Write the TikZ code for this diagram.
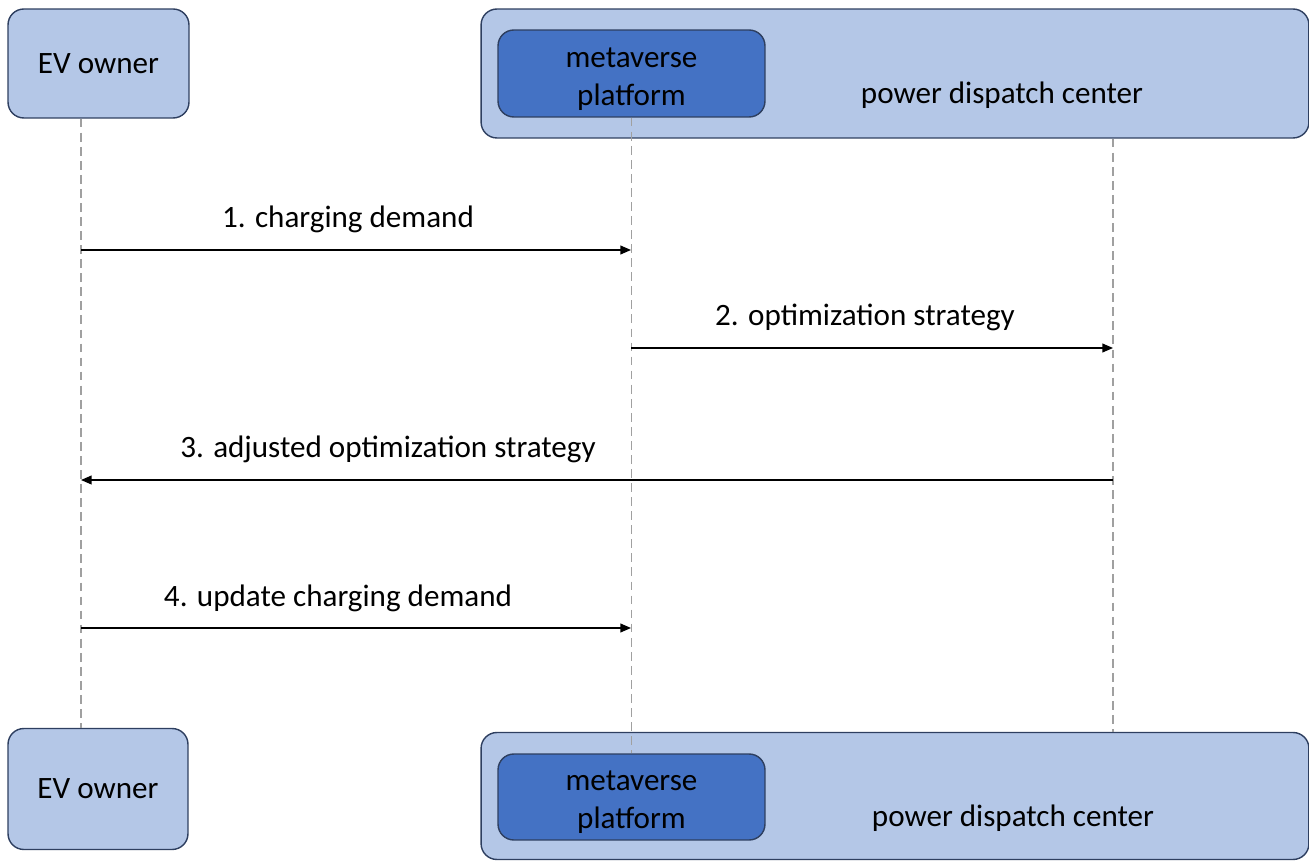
\documentclass[tikz,border=0pt]{standalone}
\usepackage{fontspec}
\setmainfont{Carlito}
\usepackage{tikz}
\usetikzlibrary{arrows.meta}
\definecolor{boxlight}{HTML}{B4C7E7}
\definecolor{boxdark}{HTML}{4472C4}
\definecolor{boxline}{HTML}{2E3F60}
\definecolor{lifegray}{HTML}{A0A0A0}

\begin{document}
\begin{tikzpicture}[x=0.02cm, y=-0.02cm,
    every node/.style={font=\fontsize{17.7}{21.5}\selectfont, align=center},
    actor/.style={draw=boxline, line width=0.8pt, fill=boxlight, rounded corners=9pt, inner sep=0pt},
    inner/.style={draw=boxline, line width=0.8pt, fill=boxdark, rounded corners=9pt, inner sep=0pt,
      minimum width=5.34cm},
    lifeline/.style={lifegray, line width=0.6pt, dash pattern=on 5pt off 3pt},
    msg/.style={black, line width=0.7pt, -{Triangle[length=6pt,width=5pt]}},
    lbl/.style={anchor=base, inner sep=0pt}]
			    		\useasboundingbox (0,0) rectangle (1309,861);
			    		\node[actor, minimum width=3.62cm, minimum height=2.18cm] (ev1) at (98.5,63.5) {EV owner};
			    		\node[actor, minimum width=16.56cm, minimum height=2.58cm] (pd1) at (895,73.5) {};
			    		\node[inner, minimum height=1.74cm] (mp1) at (631.5,73.5) {};
			    		\node (mt1) at (631.5,79) {metaverse\\platform};
			    		\node (pt1) at (1002,95) {power dispatch center};
			    		\node[actor, minimum width=3.6cm, minimum height=2.42cm] (ev2) at (98,789) {EV owner};
			    		\node[actor, minimum width=16.56cm, minimum height=2.54cm] (pd2) at (895,796) {};
			    		\node[inner, minimum height=1.72cm] (mp2) at (631.5,797) {};
			    		\node (mt2) at (631.5,802) {metaverse\\platform};
			    		\node (pt2) at (1013,818) {power dispatch center};
			    		\coordinate (l1) at (81,0);
			    		\coordinate (l3) at (1113,0);
			    		\draw[lifeline] (ev1.south -| l1) -- (ev2.north -| l1);
			    		\draw[lifeline] (mp1.south) -- (mp2.north);
			    		\draw[lifeline] (pd1.south -| l3) -- (pd2.north -| l3);
			    		\coordinate (m1a) at (81,250);   \coordinate (m1b) at (631,250);
			    		\coordinate (m2a) at (631,348);  \coordinate (m2b) at (1113,348);
			    		\coordinate (m3a) at (1113,480); \coordinate (m3b) at (81,480);
			    		\coordinate (m4a) at (81,628);   \coordinate (m4b) at (631,628);
			    		\draw[msg] (m1a) -- (m1b);
			    		\draw[msg] (m2a) -- (m2b);
			    		\draw[msg] (m3a) -- (m3b);
			    		\draw[msg] (m4a) -- (m4b);
			    		\node[lbl] (t1) at (348,228) {1. charging demand};
			    		\node[lbl] (t2) at (865,326) {2. optimization strategy};
			    		\node[lbl] (t3) at (388,458) {3. adjusted optimization strategy};
			    		\node[lbl] (t4) at (338,606) {4. update charging demand};
			    	\end{tikzpicture}
\end{document}
